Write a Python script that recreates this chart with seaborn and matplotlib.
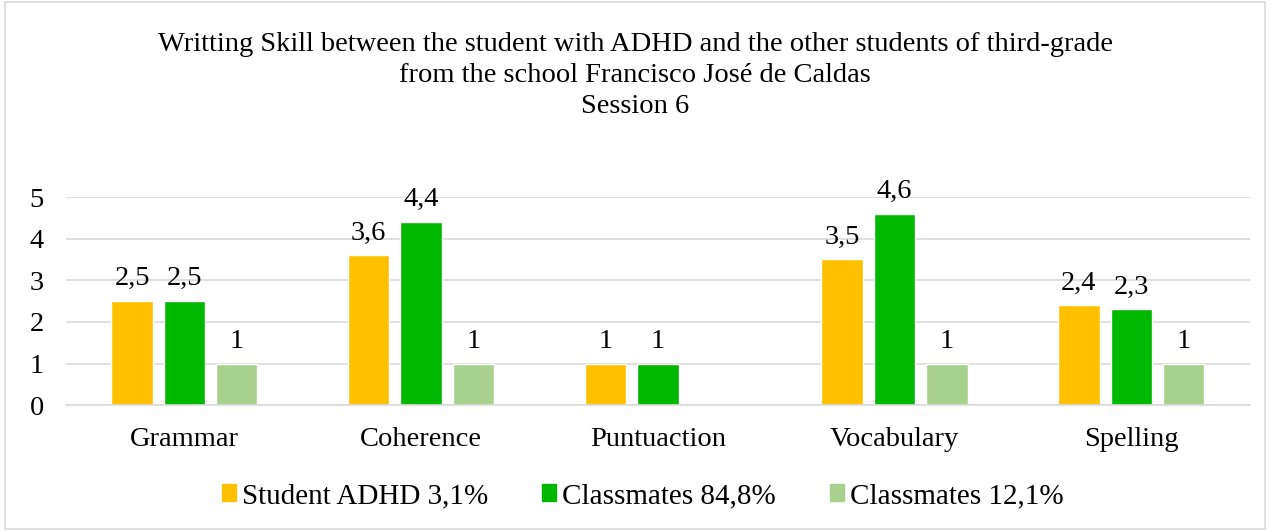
import pandas as pd
import numpy as np
import matplotlib.pyplot as plt
import seaborn as sns
from matplotlib.patches import Rectangle, Patch

skills = ["Grammar", "Coherence", "Puntuaction", "Vocabulary", "Spelling"]
student_adhd = [2.5, 3.6, 1, 3.5, 2.4]
classmates_848 = [2.5, 4.4, 1, 4.6, 2.3]
classmates_121 = [1, 1, np.nan, 1, 1]
groups = ["Student ADHD 3,1%", "Classmates 84,8%", "Classmates 12,1%"]
colors = ["#FFC000", "#00B800", "#A9D18E"]

df = pd.DataFrame({
    "skill": skills * 3,
    "group": [groups[0]] * 5 + [groups[1]] * 5 + [groups[2]] * 5,
    "score": student_adhd + classmates_848 + classmates_121,
})

sns.set_style("white")
plt.rcParams['font.family'] = ['Liberation Serif', 'DejaVu Serif']
plt.rcParams['text.color'] = 'black'
plt.rcParams['xtick.color'] = 'black'
plt.rcParams['ytick.color'] = 'black'

fig = plt.figure(figsize=(12.7, 5.31), dpi=100)
ax = fig.add_axes([0.052, 0.237, 0.932, 0.392])

sns.barplot(data=df, x="skill", y="score", hue="group", palette=colors,
            width=0.664, gap=0.21, saturation=1, ax=ax, legend=False)

for cont in ax.containers:
    ax.bar_label(cont, fmt=lambda v: f"{v:g}".replace('.', ','),
                 padding=7, fontsize=20.5)

ax.set_ylim(0, 5)
ax.set_yticks(range(6))
ax.yaxis.grid(True, color="#D9D9D9", linewidth=1.2)
ax.set_axisbelow(True)
for s in ["top", "right", "left"]:
    ax.spines[s].set_visible(False)
ax.spines["bottom"].set_color("#D9D9D9")
ax.spines["bottom"].set_linewidth(1.2)
ax.tick_params(axis="both", length=0, labelsize=20.5, pad=16)
ax.tick_params(axis="y", pad=16)
ax.set_xlabel("")
ax.set_ylabel("")

fig.suptitle("Writting Skill between the student with ADHD and the other students of third-grade\n"
             "from the school Francisco José de Caldas\nSession 6",
             y=0.94, fontsize=20.5, linespacing=1.32)

handles = [Patch(color=c) for c in colors]
fig.legend(handles, groups, loc="center", bbox_to_anchor=(0.506, 0.066), ncol=3,
           frameon=False, fontsize=21, handlelength=0.48, handleheight=0.48,
           handletextpad=0.2, columnspacing=1.85)

fig.patches.append(Rectangle((0.004, 0.004), 0.992, 0.992, transform=fig.transFigure,
                             fill=False, edgecolor="#D9D9D9", linewidth=1.2))

fig.savefig("out.png", dpi=100)
